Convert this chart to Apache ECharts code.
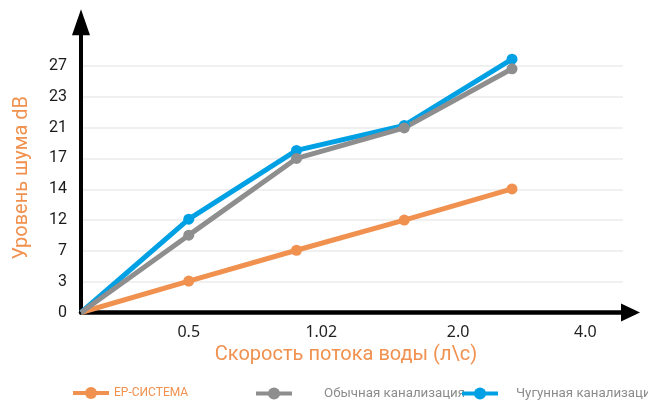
<!DOCTYPE html>
<html>
<head>
<meta charset="utf-8">
<script src="https://cdn.jsdelivr.net/npm/echarts@6/dist/echarts.min.js"></script>
<style>html,body{margin:0;padding:0;background:#fff}#c{width:648px;height:402px}</style>
</head>
<body>
<div id="c"></div>
<script>
// x positions of the points (evenly spaced steps)
const flowSteps = [0, 1, 2, 3, 4];
// x tick labels and where they sit on the step scale
const flowLabels = ['0.5', '1.02', '2.0', '4.0'];
const flowLabelPos = [1, 2.23, 3.5, 4.68];
// y tick labels (evenly spaced ticks 0..8)
const noiseTicks = ['0', '3', '7', '12', '14', '17', '21', '23', '27'];
// series values, in y tick-index units
const epSystem = [0, 1.02, 2.02, 3.0, 4.01];
const ordinary = [0, 2.51, 5.0, 5.99, 7.91];
const castIron = [0, 3.03, 5.26, 6.07, 8.22];

const names = ['ЕР-СИСТЕМА', 'Обычная канализация', 'Чугунная канализация'];
const ORANGE = '#F0914F', GRAY = '#8E8E8E', BLUE = '#00A1E4';
const NARROW = "Roboto,'Noto Sans',sans-serif";

function pts(vals) {
  return vals.map((v, i) => i === 0 ? { value: [flowSteps[i], v], symbol: 'none' } : [flowSteps[i], v]);
}
function lineSeries(name, vals, color) {
  return {
    name, type: 'line', xAxisIndex: 0, yAxisIndex: 0, data: pts(vals), clip: false,
    symbol: 'circle', symbolSize: 11, showSymbol: true,
    lineStyle: { width: 5, color }, itemStyle: { color }, emphasis: { disabled: true }
  };
}
const chart = echarts.init(document.getElementById('c'), null, { renderer: 'canvas' });
const legendBase = {
  orient: 'horizontal', top: 387, itemWidth: 36, itemHeight: 15, padding: 0,
  lineStyle: { width: 4 }, selectedMode: false,
  textStyle: { fontFamily: NARROW, fontSize: 13.3, color: '#8c8c8c' }
};
chart.setOption({
  animation: false,
  grid: [
    { left: 81, top: 66, right: 25, bottom: 89.5 },
    { left: 81, top: 22.3, right: 17.5, bottom: 89.5 }
  ],
  legend: [
    Object.assign({}, legendBase, { left: 71, data: [{ name: names[0], textStyle: { color: ORANGE, fontSize: 12 } }] }),
    Object.assign({}, legendBase, { left: 254, data: [names[1]], textStyle: Object.assign({}, legendBase.textStyle, { padding: [0, 0, 0, 27] }) }),
    Object.assign({}, legendBase, { left: 460, data: [names[2]], textStyle: Object.assign({}, legendBase.textStyle, { padding: [0, 0, 0, 13] }) })
  ],
  xAxis: [
    {
      type: 'value', gridIndex: 0, min: 0, max: 5.03,
      axisLine: { show: false }, axisTick: { show: false }, splitLine: { show: false },
      axisLabel: {
        customValues: flowLabelPos, margin: 12,
        fontFamily: "'Noto Sans',sans-serif", fontSize: 16, color: '#222',
        formatter: v => {
          let best = 0;
          flowLabelPos.forEach((p, i) => { if (Math.abs(p - v) < Math.abs(flowLabelPos[best] - v)) best = i; });
          return flowLabels[best];
        }
      },
      name: 'Скорость потока воды (л\\с)', nameLocation: 'middle', nameGap: 29,
      nameTextStyle: { color: ORANGE, fontSize: 20, fontFamily: NARROW, padding: [0, 12, 0, 0] }
    },
    {
      type: 'value', gridIndex: 1, min: 0, max: 1,
      axisLine: { show: true, onZero: false, symbol: ['none', 'triangle'], symbolSize: [18, 19], lineStyle: { color: '#000', width: 4.5 } },
      axisTick: { show: false }, axisLabel: { show: false }, splitLine: { show: false }
    }
  ],
  yAxis: [
    {
      type: 'value', gridIndex: 0, min: 0, max: 8, interval: 1,
      axisLine: { show: false }, axisTick: { show: false },
      splitLine: { show: true, lineStyle: { color: '#ebebeb', width: 1.5 } },
      axisLabel: { margin: 14, fontFamily: NARROW, fontSize: 16, color: '#1a1a1a', formatter: v => noiseTicks[v] },
      name: 'Уровень шума dB', nameLocation: 'middle', nameGap: 49, nameRotate: 90,
      nameTextStyle: { color: ORANGE, fontSize: 20, fontFamily: NARROW, padding: [0, 0, 0, 23] }
    },
    {
      type: 'value', gridIndex: 1, min: 0, max: 1,
      axisLine: { show: true, onZero: false, symbol: ['none', 'triangle'], symbolSize: [18, 26], lineStyle: { color: '#000', width: 4 } },
      axisTick: { show: false }, axisLabel: { show: false }, splitLine: { show: false }
    }
  ],
  series: [
    lineSeries(names[0], epSystem, ORANGE),
    lineSeries(names[2], castIron, BLUE),
    lineSeries(names[1], ordinary, GRAY)
  ]
});
</script>
</body>
</html>
